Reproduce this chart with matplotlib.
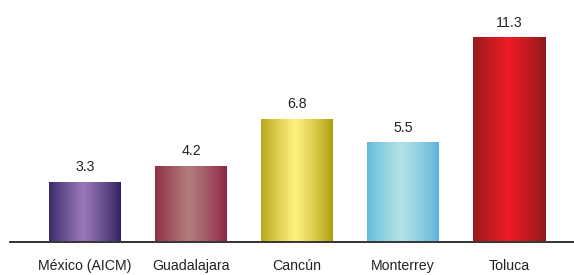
import numpy as np
import matplotlib.pyplot as plt
from matplotlib.colors import LinearSegmentedColormap

plt.rcParams['font.family'] = ['Liberation Sans', 'DejaVu Sans']

airports = ['México (AICM)', 'Guadalajara', 'Cancún', 'Monterrey', 'Toluca']
values = [3.3, 4.2, 6.8, 5.5, 11.3]
edge_colors = ['#2a1f5e', '#8c2240', '#ac9a0c', '#56b4de', '#861a1c']
mid_colors = ['#9a78b8', '#b27c7c', '#fff27e', '#b6e2e4', '#ee1c25']

fig = plt.figure(figsize=(5.74, 2.75), dpi=100)
ax = fig.add_axes([10 / 574, 33.5 / 275, 564 / 574, 241.5 / 275])

x = np.arange(len(values))
width = 72 / 106
bars = ax.bar(x, values, width=width, color='none', edgecolor='none', zorder=2)

# horizontal shading: dark edges, light middle
grad = np.linspace(0, 1, 256)
shade = 1 - np.abs(grad - 0.48) / 0.52
shade = np.clip(shade, 0, 1) ** 0.8
for bar, c0, c1 in zip(bars, edge_colors, mid_colors):
    cmap = LinearSegmentedColormap.from_list('g', [c0, c1])
    x0 = bar.get_x()
    im = ax.imshow(shade[np.newaxis, :], cmap=cmap, aspect='auto',
                   extent=[x0, x0 + bar.get_width(), 0, bar.get_height()],
                   vmin=0, vmax=1, zorder=2)
    im.set_clip_path(bar)

for xi, v in zip(x, values):
    ax.annotate(f'{v:.1f}', (xi, v), xytext=(0, 5.5), textcoords='offset points',
                ha='center', va='bottom', fontsize=10.2, color='#222222')

ax.set_xlim(-75 / 106, 4 + 65 / 106)
ax.set_ylim(0, 241.5 / 18.06)
ax.set_xticks(x)
ax.set_xticklabels(airports, fontsize=10.2, color='#222222')
ax.tick_params(axis='x', length=0, pad=12.5)
ax.set_yticks([])
for s in ['top', 'right', 'left']:
    ax.spines[s].set_visible(False)
ax.spines['bottom'].set_linewidth(1.2)
ax.spines['bottom'].set_color('#111111')

fig.savefig('out.png', dpi=100)
